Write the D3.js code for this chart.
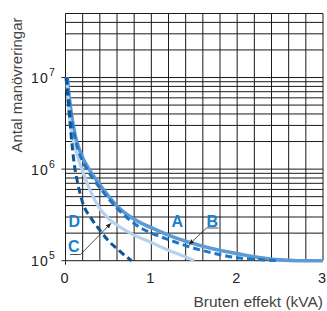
<!DOCTYPE html>
<html>
<head>
<meta charset="utf-8">
<script src="https://cdn.jsdelivr.net/npm/d3@7"></script>
<style>
body { margin: 0; background: #fff; }
svg { display: block; font-family: "Liberation Sans", Arial, sans-serif; }
</style>
</head>
<body>
<div id="chart-area"></div>
<script>
// values: x = Bruten effekt (kVA), y = Antal manövreringar
var kvaA = [0.022, 0.03, 0.045, 0.07, 0.11, 0.16, 0.21, 0.28, 0.36, 0.44, 0.6, 0.87, 1.0, 1.2, 1.43, 1.7, 2.03, 2.3, 2.5, 2.7, 3.0];
var opsA = [1e7, 8.0e6, 6.0e6, 3.9e6, 2.4e6, 1.65e6, 1.27e6, 9.8e5, 7.6e5, 6.0e5, 3.95e5, 2.6e5, 2.3e5, 1.9e5, 1.6e5, 1.36e5, 1.18e5, 1.07e5, 1.02e5, 1.0e5, 1.0e5];

var kvaB = [0.02, 0.03, 0.045, 0.07, 0.11, 0.16, 0.25, 0.36, 0.44, 0.6, 0.87, 1.0, 1.2, 1.43, 1.7, 2.03, 2.3, 2.5];
var opsB = [1e7, 7.5e6, 5.5e6, 3.6e6, 2.2e6, 1.5e6, 1.0e6, 7.0e5, 5.6e5, 3.75e5, 2.3e5, 2.0e5, 1.7e5, 1.43e5, 1.22e5, 1.07e5, 1.02e5, 1.0e5];

var kvaC = [0.006, 0.02, 0.04, 0.06, 0.08, 0.107, 0.14, 0.2, 0.3, 0.4, 0.5, 0.6, 0.7, 0.77];
var opsC = [1e7, 7.2e6, 4.4e6, 2.7e6, 1.7e6, 1.05e6, 7.2e5, 4.3e5, 2.9e5, 2.15e5, 1.65e5, 1.35e5, 1.12e5, 1.0e5];

var kvaD = [0.015, 0.025, 0.04, 0.06, 0.08, 0.1, 0.14, 0.19, 0.24, 0.3, 0.4, 0.5, 0.6, 0.8, 1.0, 1.2, 1.4, 1.5];
var opsD = [1e7, 6.5e6, 4.2e6, 2.9e6, 2.3e6, 1.9e6, 1.37e6, 1.0e6, 7.5e5, 5.5e5, 3.7e5, 2.9e5, 2.45e5, 1.9e5, 1.58e5, 1.3e5, 1.1e5, 1.0e5];

var xTicks = [0, 1, 2, 3];
var yDecades = [1e5, 1e6, 1e7];
var curveNames = ["A", "B", "C", "D"];

// SVG Size
var W = 327, H = 311;
var margin = {top: 13.5, right: 4, bottom: 50.3, left: 65.5};
var w = W - margin.left - margin.right;
var h = H - margin.top - margin.bottom;

var svg = d3.select("#chart-area").append("svg")
	.attr("width", W)
	.attr("height", H);

var g = svg.append("g")
	.attr("transform", "translate(" + margin.left + "," + margin.top + ")");

var x = d3.scaleLinear().domain([0, 3]).range([0, w]);
var y = d3.scaleLog().domain([1e5, 5e7]).range([h, 0]);

// grid
var vLines = d3.range(0, 3.0001, 0.2);
g.selectAll(".vgrid").data(vLines).enter().append("line")
	.attr("x1", function(d){ return x(d); })
	.attr("x2", function(d){ return x(d); })
	.attr("y1", 0).attr("y2", h)
	.attr("stroke", "#1a1a1a").attr("stroke-width", 1);

var hLines = [];
[1e5, 1e6, 1e7].forEach(function(dec){
	for (var k = 1; k <= 9; k++) {
		var v = dec * k;
		if (v <= 5e7) hLines.push(v);
	}
});
g.selectAll(".hgrid").data(hLines).enter().append("line")
	.attr("x1", 0).attr("x2", w)
	.attr("y1", function(d){ return y(d); })
	.attr("y2", function(d){ return y(d); })
	.attr("stroke", "#1a1a1a").attr("stroke-width", 1);

// little ticks at the decades and axis stub below
g.selectAll(".ytick").data(yDecades).enter().append("line")
	.attr("x1", -4).attr("x2", 0)
	.attr("y1", function(d){ return y(d); })
	.attr("y2", function(d){ return y(d); })
	.attr("stroke", "#222").attr("stroke-width", 1);
g.append("line").attr("x1", 0).attr("x2", 0).attr("y1", h).attr("y2", h + 4)
	.attr("stroke", "#222").attr("stroke-width", 1);

// curves
var line = d3.line()
	.x(function(d){ return x(d[0]); })
	.y(function(d){ return y(d[1]); })
	.curve(d3.curveMonotoneX);

function pairs(xs, ys) {
	return xs.map(function(v, i){ return [v, ys[i]]; });
}

var series = [
	{name: "A", pts: pairs(kvaA, opsA), color: "#5e9ad4", width: 3.6, dash: null},
	{name: "D", pts: pairs(kvaD, opsD), color: "#b7d1ee", width: 3.2, dash: null},
	{name: "B", pts: pairs(kvaB, opsB), color: "#1f75c2", width: 3, dash: "7,4"},
	{name: "C", pts: pairs(kvaC, opsC), color: "#0d5595", width: 3, dash: "7,4"}
];

g.selectAll(".curve").data(series).enter().append("path")
	.attr("class", "curve")
	.attr("d", function(d){ return line(d.pts); })
	.attr("fill", "none")
	.attr("stroke", function(d){ return d.color; })
	.attr("stroke-width", function(d){ return d.width; })
	.attr("stroke-dasharray", function(d){ return d.dash; });

// tick labels
svg.selectAll(".xlab").data(xTicks).enter().append("text")
	.attr("x", function(d){ return margin.left + x(d) - 1; })
	.attr("y", 282.5)
	.attr("text-anchor", "middle")
	.attr("font-size", 14.5)
	.attr("fill", "#222")
	.text(function(d){ return d; });

var ylab = svg.selectAll(".ylab").data(yDecades).enter().append("text")
	.attr("x", 31)
	.attr("y", function(d){ return margin.top + y(d) + 5.5; })
	.attr("font-size", 14)
	.attr("letter-spacing", 1.2)
	.attr("fill", "#222");
ylab.append("tspan").text("10");
ylab.append("tspan")
	.attr("dy", -7)
	.attr("font-size", 10.5)
	.text(function(d){ return Math.round(Math.log10(d)); });

// axis titles
svg.append("text")
	.attr("x", 323).attr("y", 306.5)
	.attr("text-anchor", "end")
	.attr("font-size", 15.5)
	.attr("fill", "#444")
	.text("Bruten effekt (kVA)");

svg.append("text")
	.attr("transform", "translate(22,85) rotate(-90)")
	.attr("text-anchor", "middle")
	.attr("font-size", 15)
	.attr("fill", "#444")
	.text("Antal manövreringar");

// curve labels and arrows
svg.append("defs").append("marker")
	.attr("id", "arr")
	.attr("viewBox", "0 0 10 10")
	.attr("refX", 9).attr("refY", 5)
	.attr("markerWidth", 7).attr("markerHeight", 7)
	.attr("orient", "auto")
	.append("path").attr("d", "M0,1 L10,5 L0,9 Z").attr("fill", "#222");

var labelPos = {A: [171.5, 226.5], B: [206.5, 226.5], C: [68, 252], D: [68.5, 227]};
svg.selectAll(".clab").data(curveNames).enter().append("text")
	.attr("x", function(d){ return labelPos[d][0]; })
	.attr("y", function(d){ return labelPos[d][1]; })
	.attr("font-size", 16)
	.attr("font-weight", "bold")
	.attr("fill", "#1b7fcb")
	.text(function(d){ return d; });

// B callout: underline then diagonal to curve B
svg.append("path")
	.attr("d", "M218.5,228 L206.5,228 L" + (margin.left + x(1.43) + 1) + "," + (margin.top + y(1.47e5) - 1))
	.attr("fill", "none").attr("stroke", "#222").attr("stroke-width", 0.8)
	.attr("marker-end", "url(#arr)");

// C callout: underline then diagonal to curve D
svg.append("path")
	.attr("d", "M70,254.5 L80.5,254.5 L" + (margin.left + x(0.54) - 1) + "," + (margin.top + y(2.62e5) + 1))
	.attr("fill", "none").attr("stroke", "#222").attr("stroke-width", 0.8)
	.attr("marker-end", "url(#arr)");
</script>
</body>
</html>
